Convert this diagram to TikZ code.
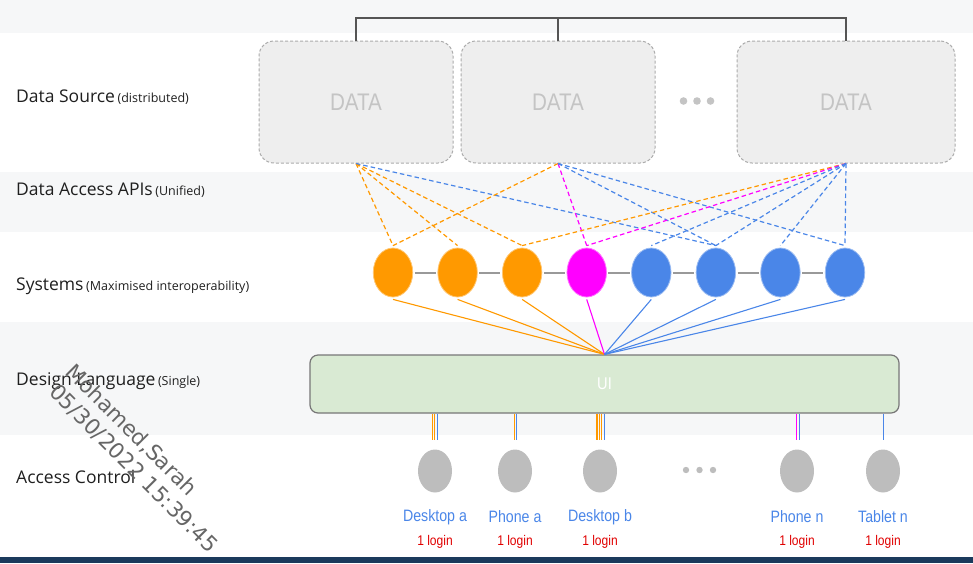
\documentclass[tikz,border=0pt]{standalone}
\usepackage{fontspec}
\setmainfont{Open Sans}
\newfontfamily\NarrowFont[FakeStretch=0.86]{Liberation Sans}
\newfontfamily\MarkFont{DejaVu Sans}
\usepackage{xcolor}
\usetikzlibrary{shapes.geometric,positioning}
\definecolor{BandGray}{HTML}{F6F7F8}
\definecolor{FooterBlue}{HTML}{1B3A5C}
\definecolor{TitleBlack}{HTML}{1F1F1F}
\definecolor{DataBoxFill}{HTML}{EEEEEE}
\definecolor{DataBoxBorder}{HTML}{ABABAB}
\definecolor{DataText}{HTML}{C4C4C4}
\definecolor{BracketGray}{HTML}{555555}
\definecolor{AccentOrange}{HTML}{FF9900}
\definecolor{AccentMagenta}{HTML}{FF00FF}
\definecolor{AccentBlue}{HTML}{4A86E8}
\definecolor{LinkGray}{HTML}{999999}
\definecolor{UIFill}{HTML}{D9EAD3}
\definecolor{UIBorder}{HTML}{777777}
\definecolor{DeviceGray}{HTML}{BDBDBD}
\definecolor{LoginRed}{HTML}{E00000}
\definecolor{MarkGray}{HTML}{666666}
\tikzstyle{LayerTitle} =[anchor=west,inner sep=0pt,text=TitleBlack]
\tikzstyle{DataSourceBox} =[draw=DataBoxBorder,fill=DataBoxFill,dash pattern=on 3pt off 2pt,line width=1pt,rounded corners=15pt,minimum height=122pt,text=DataText,font=\NarrowFont\fontsize{24}{26}\selectfont]
\tikzstyle{Bracket} =[draw=BracketGray,line width=2pt]
\tikzstyle{SystemNode} =[ellipse,minimum width=39.5pt,minimum height=49pt,inner sep=0pt,line width=0.8pt]
\tikzstyle{SystemOrange} =[SystemNode,fill=AccentOrange,draw=AccentOrange!55!white]
\tikzstyle{SystemMagenta} =[SystemNode,fill=AccentMagenta,draw=AccentMagenta!55!white]
\tikzstyle{SystemBlue} =[SystemNode,fill=AccentBlue,draw=AccentBlue!55!white]
\tikzstyle{SystemLink} =[draw=LinkGray,line width=2pt,shorten <=1.5pt,shorten >=1.5pt]
\tikzstyle{ApiLine} =[dash pattern=on 4.5pt off 3pt,line width=1.2pt]
\tikzstyle{UsageLine} =[line width=1.1pt]
\tikzstyle{DesignLanguageBox} =[draw=UIBorder,fill=UIFill,line width=1.2pt,rounded corners=8pt,minimum width=589pt,minimum height=58pt,text=white,font=\NarrowFont\fontsize{17}{19}\selectfont]
\tikzstyle{AccessLine} =[line width=1.1pt]
\tikzstyle{DeviceNode} =[ellipse,fill=DeviceGray,minimum width=34pt,minimum height=43pt,inner sep=0pt]
\tikzstyle{DeviceLabel} =[text=AccentBlue,inner sep=0pt,font=\NarrowFont\fontsize{16.5}{18}\selectfont]
\tikzstyle{LoginLabel} =[text=LoginRed,inner sep=0pt,font=\NarrowFont\fontsize{14}{16}\selectfont]
\tikzstyle{Watermark} =[anchor=base west,rotate=-45,inner sep=0pt,text=MarkGray,font=\MarkFont\fontsize{21.5}{21.5}\selectfont]
\newcommand{\LayerText}[2]{{\fontsize{17.5}{20}\selectfont #1} {\fontsize{12.5}{14}\selectfont #2}}

\begin{document}
\begin{tikzpicture}[x=1pt,y=-1pt,node distance=64.57pt,on grid]
    \useasboundingbox (0,0) rectangle (973,563);

    % background bands
    \fill[BandGray] (0,0) rectangle (973,33);
    \fill[BandGray] (0,172) rectangle (973,232);
    \fill[BandGray] (0,322) rectangle (973,435);
    \fill[FooterBlue] (0,557) rectangle (973,563);

    % layer titles
    \node[LayerTitle] (Title-Data-Source) at (16,97) {\LayerText{Data Source}{(distributed)}};
    \node[LayerTitle] (Title-Data-Access) at (16,190) {\LayerText{Data Access APIs}{(Unified)}};
    \node[LayerTitle] (Title-Systems) at (16,286) {\LayerText{Systems}{(Maximised interoperability)}};
    \node[LayerTitle] (Title-Design-Language) at (16,381) {\LayerText{Design Language}{(Single)}};
    \node[LayerTitle] (Title-Access-Control) at (16,477) {\LayerText{Access Control}{}};

    % data sources
    \node[DataSourceBox,minimum width=194pt] (Data-Source-1) at (356,102) {DATA};
    \node[DataSourceBox,minimum width=194pt] (Data-Source-2) at (558,102) {DATA};
    \node[DataSourceBox,minimum width=218pt] (Data-Source-N) at (846,102) {DATA};
    \foreach \dx in {683.5,697,710.5}
        \fill[DataText] (\dx,101) circle (3.8);

    \draw[Bracket] (Data-Source-1.north) -- ++(0,-23) -| (Data-Source-N.north);
    \draw[Bracket] (Data-Source-2.north) -- ++(0,-23);

    % systems
    \node[SystemOrange] (System-1) at (393,272.5) {};
    \node[SystemOrange,right=of System-1] (System-2) {};
    \node[SystemOrange,right=of System-2] (System-3) {};
    \node[SystemMagenta,right=of System-3] (System-4) {};
    \node[SystemBlue,right=of System-4] (System-5) {};
    \node[SystemBlue,right=of System-5] (System-6) {};
    \node[SystemBlue,right=of System-6] (System-7) {};
    \node[SystemBlue,right=of System-7] (System-8) {};
    \foreach \a/\b in {1/2,2/3,3/4,4/5,5/6,6/7,7/8}
        \draw[SystemLink] (System-\a) -- (System-\b);

    % data access apis
    \foreach \t in {1,2,3}
        \draw[ApiLine,AccentOrange] (Data-Source-1.south) -- ([yshift=2pt]System-\t.north);
    \draw[ApiLine,AccentBlue] (Data-Source-1.south) -- ([yshift=2pt]System-6.north);
    \draw[ApiLine,AccentOrange] (Data-Source-2.south) -- ([yshift=2pt]System-1.north);
    \draw[ApiLine,AccentMagenta] (Data-Source-2.south) -- ([yshift=2pt]System-4.north);
    \foreach \t in {6,8}
        \draw[ApiLine,AccentBlue] (Data-Source-2.south) -- ([yshift=2pt]System-\t.north);
    \draw[ApiLine,AccentOrange] (Data-Source-N.south) -- ([yshift=2pt]System-3.north);
    \draw[ApiLine,AccentMagenta] (Data-Source-N.south) -- ([yshift=2pt]System-4.north);
    \foreach \t in {5,6,7,8}
        \draw[ApiLine,AccentBlue] (Data-Source-N.south) -- ([yshift=2pt]System-\t.north);

    % design language
    \node[DesignLanguageBox] (UI-Layer) at (604.5,384) {UI};
    \foreach \s/\c in {1/AccentOrange,2/AccentOrange,3/AccentOrange,4/AccentMagenta,5/AccentBlue,6/AccentBlue,7/AccentBlue,8/AccentBlue}
        \draw[UsageLine,\c] ([yshift=-2pt]System-\s.south) -- (UI-Layer.north);

    % access control
    \node[DeviceNode] (Desktop-a) at (435,471) {};
    \node[DeviceNode] (Phone-a) at (515,471) {};
    \node[DeviceNode] (Desktop-b) at (600,471) {};
    \node[DeviceNode] (Phone-n) at (797,471) {};
    \node[DeviceNode] (Tablet-n) at (883,471) {};
    \foreach \dx in {686,699.5,713}
        \fill[DeviceGray] (\dx,470) circle (3.2);

    \foreach \dev/\dx/\c in {Desktop-a/-2.7/AccentOrange,Desktop-a/-0.5/AccentOrange,Desktop-a/2.5/AccentBlue,Phone-a/-0.8/AccentOrange,Phone-a/1.8/AccentBlue,Desktop-b/-3/AccentOrange,Desktop-b/-0.8/AccentOrange,Desktop-b/1.4/AccentOrange,Desktop-b/4.8/AccentBlue,Phone-n/-0.5/AccentMagenta,Phone-n/2.1/AccentBlue,Tablet-n/0.3/AccentBlue}
        \draw[AccessLine,\c] ([xshift=\dx pt]\dev.north |- UI-Layer.south) -- ([xshift=\dx pt,yshift=9pt]\dev.north);

    \foreach \dev/\name in {Desktop-a/Desktop a,Phone-a/Phone a,Desktop-b/Desktop b,Phone-n/Phone n,Tablet-n/Tablet n}{
        \node[DeviceLabel,below=46pt of \dev] (\dev-Label) {\name};
        \node[LoginLabel,below=25pt of \dev-Label] (\dev-Login) {1 login};
    }

    % watermark
    \node[Watermark] (Watermark-Name) at (64,373) {Mohamed,Sarah};
    \node[Watermark] (Watermark-Time) at (48,393) {05/30/2022 15:39:45};
\end{tikzpicture}
\end{document}
